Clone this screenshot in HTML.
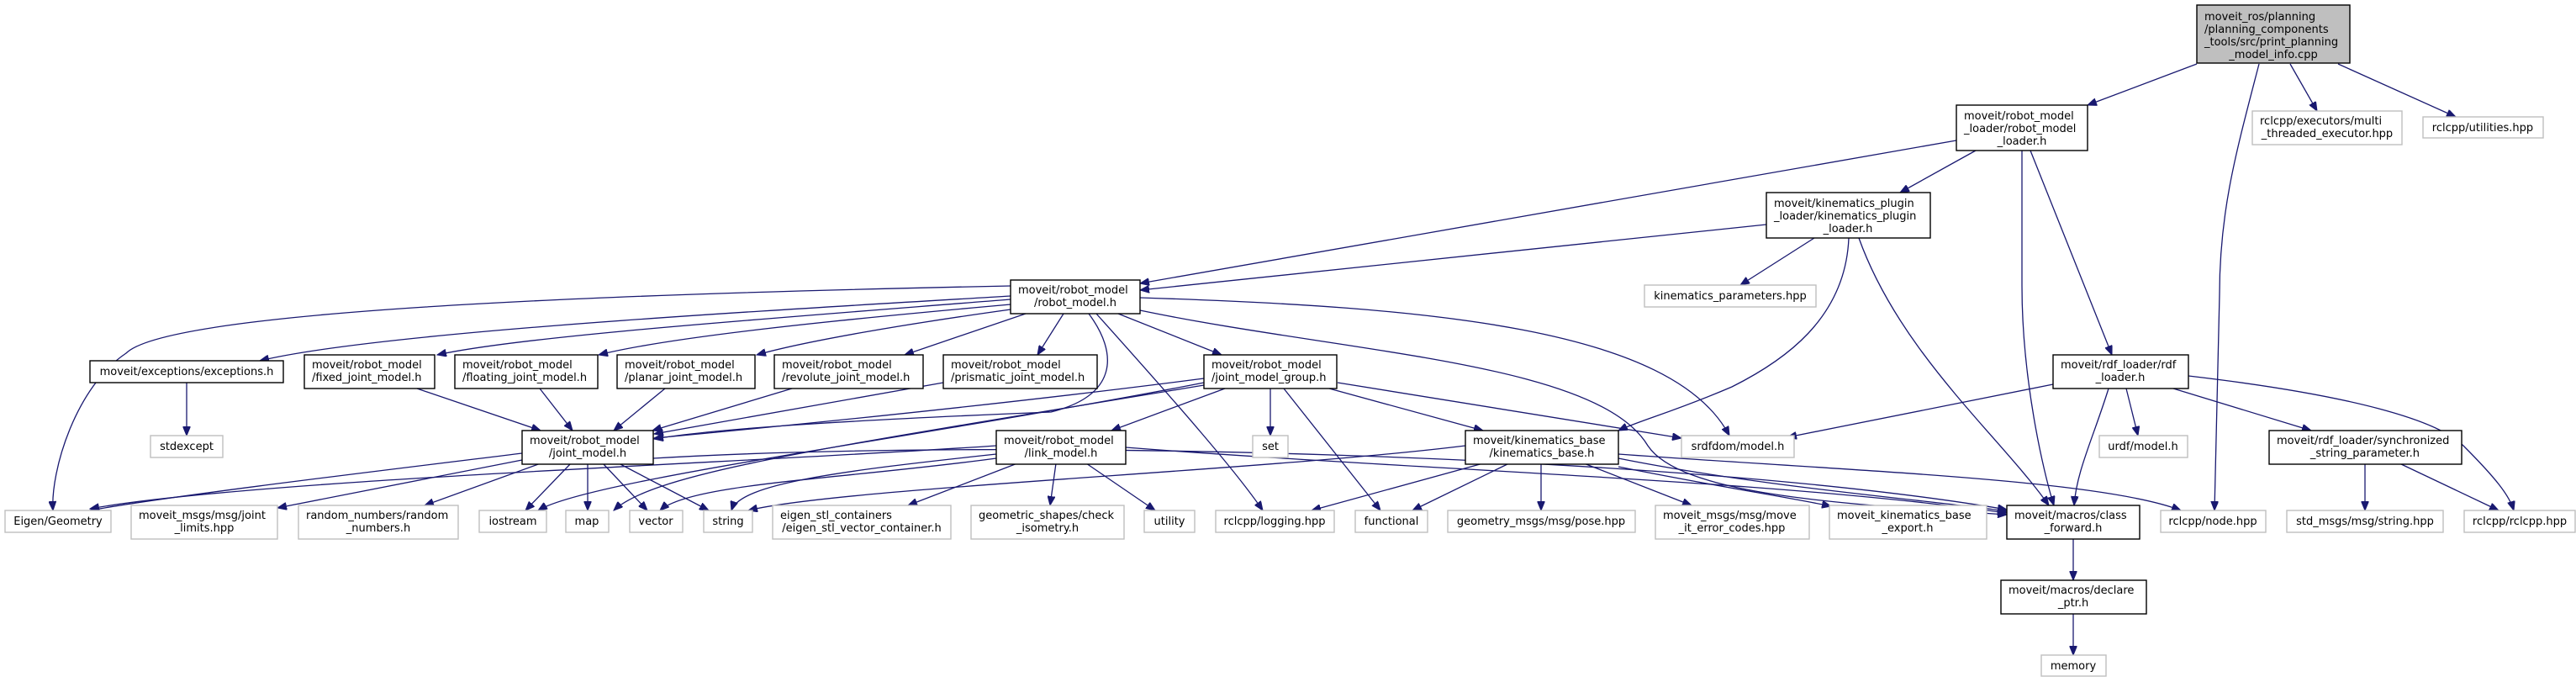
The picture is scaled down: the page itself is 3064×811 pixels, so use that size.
<!DOCTYPE html>
<html><head><meta charset="utf-8"><style>
html,body{margin:0;padding:0;background:#fff}
svg{display:block}
text{font-family:"DejaVu Sans","Liberation Sans",sans-serif;font-size:13px;fill:#000}
.b{fill:#fff;stroke:#000;stroke-width:1.4}
.g{fill:#fff;stroke:#bfbfbf;stroke-width:1.4}
.r{fill:#bfbfbf;stroke:#000;stroke-width:1.4}
.e{fill:none;stroke:#191970;stroke-width:1.3;marker-end:url(#a)}
</style></head><body>
<svg width="3064" height="811" viewBox="0 0 3064 811" xmlns="http://www.w3.org/2000/svg">
<defs><marker id="a" markerUnits="userSpaceOnUse" markerWidth="12" markerHeight="9" refX="11" refY="4.5" orient="auto"><path d="M0,0 L11,4.5 L0,9 z" fill="#191970" stroke="#191970"/></marker></defs>
<g>
<path class="e" d="M2613,76 L2483,125"/>
<path class="e" d="M2724,76 L2756,132"/>
<path class="e" d="M2781,76 L2921,139"/>
<path class="e" d="M2687,76 C2660,180 2640,250 2640,350 L2634,607"/>
<path class="e" d="M2327,167 L1356,337"/>
<path class="e" d="M2350,179 L2260,229"/>
<path class="e" d="M2405,179 L2405,340 C2405,450 2430,560 2443,601"/>
<path class="e" d="M2415,179 L2512,422"/>
<path class="e" d="M2101,267 L1356,345"/>
<path class="e" d="M2158,283 L2070,339"/>
<path class="e" d="M2199,283 C2195,380 2120,430 2060,460 C1990,490 1950,500 1925,512"/>
<path class="e" d="M2211,283 C2260,420 2380,520 2437,601"/>
<path class="e" d="M1202,352 C900,370 450,395 309,429"/>
<path class="e" d="M1202,356 C900,380 620,400 520,422"/>
<path class="e" d="M1202,362 C1000,380 800,400 712,422"/>
<path class="e" d="M1202,368 C1080,385 960,405 900,422"/>
<path class="e" d="M1220,373 L1076,422"/>
<path class="e" d="M1265,373 L1234,422"/>
<path class="e" d="M1330,373 L1453,422"/>
<path class="e" d="M1295,373 C1330,420 1330,470 1250,490 C1000,500 850,510 778,522"/>
<path class="e" d="M1202,340 C700,350 200,370 150,420 C90,460 60,560 63,607"/>
<path class="e" d="M1304,373 C1400,480 1470,560 1502,607"/>
<path class="e" d="M1356,354 C1700,365 1990,390 2057,518"/>
<path class="e" d="M1356,369 C1600,420 1900,430 1960,530 C2000,590 2200,600 2387,612"/>
<path class="e" d="M222,455 L222,518"/>
<path class="e" d="M496,462 L643,512"/>
<path class="e" d="M642,462 L681,512"/>
<path class="e" d="M791,462 L730,512"/>
<path class="e" d="M942,462 L776,512"/>
<path class="e" d="M1122,455 L778,516"/>
<path class="e" d="M1432,450 C1200,480 950,505 778,521"/>
<path class="e" d="M621,539 C450,560 200,590 107,607"/>
<path class="e" d="M621,547 L330,604"/>
<path class="e" d="M643,551 L505,601"/>
<path class="e" d="M679,551 L625,607"/>
<path class="e" d="M699,551 L699,607"/>
<path class="e" d="M717,551 L770,607"/>
<path class="e" d="M736,551 L843,607"/>
<path class="e" d="M777,545 C1200,520 2000,540 2387,606"/>
<path class="e" d="M1457,462 L1322,512"/>
<path class="e" d="M1511,462 L1511,518"/>
<path class="e" d="M1527,462 L1642,607"/>
<path class="e" d="M1581,462 L1764,512"/>
<path class="e" d="M1591,455 L2000,521"/>
<path class="e" d="M1432,455 C1100,520 700,570 640,607"/>
<path class="e" d="M1432,458 C1000,530 780,560 730,607"/>
<path class="e" d="M1185,530 C900,550 300,570 107,605"/>
<path class="e" d="M1185,540 C1000,560 880,575 870,607"/>
<path class="e" d="M1185,545 C1000,570 820,575 785,607"/>
<path class="e" d="M1210,551 L1080,601"/>
<path class="e" d="M1256,551 L1249,601"/>
<path class="e" d="M1292,551 L1374,607"/>
<path class="e" d="M1339,532 C1700,560 2100,570 2387,610"/>
<path class="e" d="M1743,530 C1500,560 1000,580 890,607"/>
<path class="e" d="M1764,551 L1560,607"/>
<path class="e" d="M1795,551 L1680,607"/>
<path class="e" d="M1833,551 L1833,607"/>
<path class="e" d="M1884,551 L2012,601"/>
<path class="e" d="M1925,555 C2050,580 2120,590 2178,602"/>
<path class="e" d="M1925,545 C2100,580 2300,595 2387,608"/>
<path class="e" d="M1925,540 C2200,560 2500,570 2594,607"/>
<path class="e" d="M2442,457 L2126,520"/>
<path class="e" d="M2508,462 C2490,520 2470,560 2467,601"/>
<path class="e" d="M2529,462 L2543,518"/>
<path class="e" d="M2585,462 L2749,512"/>
<path class="e" d="M2603,447 C2800,470 2900,500 2930,530 C2970,570 2985,590 2990,607"/>
<path class="e" d="M2813,551 L2813,607"/>
<path class="e" d="M2854,551 L2972,607"/>
<path class="e" d="M2466,641 L2466,690"/>
<path class="e" d="M2466,730 L2466,779"/>
</g>
<g>
<rect class="r" x="2613" y="6" width="182" height="69"/>
<text x="2622" y="24">moveit_ros/planning</text><text x="2622" y="39">/planning_components</text><text x="2622" y="54">_tools/src/print_planning</text><text x="2704" y="69" text-anchor="middle">_model_info.cpp</text>

<rect class="b" x="2327" y="125" width="156" height="54"/>
<text x="2336" y="142">moveit/robot_model</text><text x="2336" y="157">_loader/robot_model</text><text x="2405" y="172" text-anchor="middle">_loader.h</text>

<rect class="g" x="2679" y="132" width="178" height="40"/>
<text x="2688" y="148">rclcpp/executors/multi</text><text x="2768" y="163" text-anchor="middle">_threaded_executor.hpp</text>

<rect class="g" x="2882" y="139" width="143" height="25"/>
<text x="2953" y="156" text-anchor="middle">rclcpp/utilities.hpp</text>

<rect class="b" x="2101" y="229" width="195" height="54"/>
<text x="2110" y="246">moveit/kinematics_plugin</text><text x="2110" y="261">_loader/kinematics_plugin</text><text x="2198" y="276" text-anchor="middle">_loader.h</text>

<rect class="g" x="1956" y="339" width="204" height="26"/>
<text x="2058" y="356" text-anchor="middle">kinematics_parameters.hpp</text>

<rect class="b" x="1202" y="333" width="154" height="40"/>
<text x="1211" y="349">moveit/robot_model</text><text x="1279" y="364" text-anchor="middle">/robot_model.h</text>

<rect class="b" x="107" y="429" width="230" height="26"/>
<text x="222" y="446" text-anchor="middle">moveit/exceptions/exceptions.h</text>

<rect class="b" x="362" y="422" width="155" height="40"/>
<text x="371" y="438">moveit/robot_model</text><text x="371" y="453">/fixed_joint_model.h</text>

<rect class="b" x="541" y="422" width="170" height="40"/>
<text x="550" y="438">moveit/robot_model</text><text x="550" y="453">/floating_joint_model.h</text>

<rect class="b" x="734" y="422" width="164" height="40"/>
<text x="743" y="438">moveit/robot_model</text><text x="743" y="453">/planar_joint_model.h</text>

<rect class="b" x="921" y="422" width="177" height="40"/>
<text x="930" y="438">moveit/robot_model</text><text x="930" y="453">/revolute_joint_model.h</text>

<rect class="b" x="1122" y="422" width="183" height="40"/>
<text x="1131" y="438">moveit/robot_model</text><text x="1131" y="453">/prismatic_joint_model.h</text>

<rect class="b" x="1432" y="422" width="158" height="40"/>
<text x="1441" y="438">moveit/robot_model</text><text x="1441" y="453">/joint_model_group.h</text>

<rect class="b" x="2442" y="422" width="161" height="40"/>
<text x="2451" y="438">moveit/rdf_loader/rdf</text><text x="2522" y="453" text-anchor="middle">_loader.h</text>

<rect class="g" x="179" y="518" width="86" height="26"/>
<text x="222" y="535" text-anchor="middle">stdexcept</text>

<rect class="b" x="621" y="512" width="156" height="40"/>
<text x="630" y="528">moveit/robot_model</text><text x="699" y="543" text-anchor="middle">/joint_model.h</text>

<rect class="b" x="1185" y="512" width="154" height="40"/>
<text x="1194" y="528">moveit/robot_model</text><text x="1262" y="543" text-anchor="middle">/link_model.h</text>

<rect class="g" x="1490" y="518" width="42" height="26"/>
<text x="1511" y="535" text-anchor="middle">set</text>

<rect class="b" x="1743" y="512" width="182" height="40"/>
<text x="1752" y="528">moveit/kinematics_base</text><text x="1834" y="543" text-anchor="middle">/kinematics_base.h</text>

<rect class="g" x="2000" y="518" width="134" height="26"/>
<text x="2067" y="535" text-anchor="middle">srdfdom/model.h</text>

<rect class="g" x="2497" y="518" width="105" height="26"/>
<text x="2549" y="535" text-anchor="middle">urdf/model.h</text>

<rect class="b" x="2699" y="512" width="229" height="40"/>
<text x="2708" y="528">moveit/rdf_loader/synchronized</text><text x="2813" y="543" text-anchor="middle">_string_parameter.h</text>

<rect class="g" x="6" y="607" width="126" height="26"/>
<text x="69" y="624" text-anchor="middle">Eigen/Geometry</text>
<rect class="g" x="156" y="601" width="174" height="40"/>
<text x="165" y="617">moveit_msgs/msg/joint</text><text x="243" y="632" text-anchor="middle">_limits.hpp</text>
<rect class="g" x="355" y="601" width="190" height="40"/>
<text x="364" y="617">random_numbers/random</text><text x="450" y="632" text-anchor="middle">_numbers.h</text>
<rect class="g" x="570" y="607" width="80" height="26"/>
<text x="610" y="624" text-anchor="middle">iostream</text>
<rect class="g" x="673" y="607" width="51" height="26"/>
<text x="698" y="624" text-anchor="middle">map</text>
<rect class="g" x="749" y="607" width="63" height="26"/>
<text x="780" y="624" text-anchor="middle">vector</text>
<rect class="g" x="837" y="607" width="58" height="26"/>
<text x="866" y="624" text-anchor="middle">string</text>
<rect class="g" x="919" y="601" width="212" height="40"/>
<text x="928" y="617">eigen_stl_containers</text><text x="1025" y="632" text-anchor="middle">/eigen_stl_vector_container.h</text>
<rect class="g" x="1155" y="601" width="182" height="40"/>
<text x="1164" y="617">geometric_shapes/check</text><text x="1246" y="632" text-anchor="middle">_isometry.h</text>
<rect class="g" x="1361" y="607" width="60" height="26"/>
<text x="1391" y="624" text-anchor="middle">utility</text>
<rect class="g" x="1446" y="607" width="141" height="26"/>
<text x="1516" y="624" text-anchor="middle">rclcpp/logging.hpp</text>
<rect class="g" x="1612" y="607" width="86" height="26"/>
<text x="1655" y="624" text-anchor="middle">functional</text>
<rect class="g" x="1722" y="607" width="223" height="26"/>
<text x="1833" y="624" text-anchor="middle">geometry_msgs/msg/pose.hpp</text>
<rect class="g" x="1969" y="601" width="183" height="40"/>
<text x="1978" y="617">moveit_msgs/msg/move</text><text x="2060" y="632" text-anchor="middle">_it_error_codes.hpp</text>
<rect class="g" x="2176" y="601" width="187" height="40"/>
<text x="2185" y="617">moveit_kinematics_base</text><text x="2269" y="632" text-anchor="middle">_export.h</text>
<rect class="b" x="2387" y="601" width="158" height="40"/>
<text x="2396" y="617">moveit/macros/class</text><text x="2466" y="632" text-anchor="middle">_forward.h</text>
<rect class="g" x="2570" y="607" width="125" height="26"/>
<text x="2632" y="624" text-anchor="middle">rclcpp/node.hpp</text>
<rect class="g" x="2720" y="607" width="186" height="26"/>
<text x="2813" y="624" text-anchor="middle">std_msgs/msg/string.hpp</text>
<rect class="g" x="2931" y="607" width="132" height="26"/>
<text x="2997" y="624" text-anchor="middle">rclcpp/rclcpp.hpp</text>

<rect class="b" x="2380" y="690" width="173" height="40"/>
<text x="2389" y="706">moveit/macros/declare</text><text x="2466" y="721" text-anchor="middle">_ptr.h</text>
<rect class="g" x="2428" y="779" width="77" height="25"/>
<text x="2466" y="796" text-anchor="middle">memory</text>
</g>
</svg>
</body></html>
